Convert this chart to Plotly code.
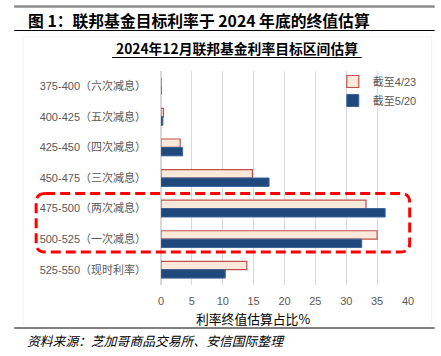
import plotly.graph_objects as go

categories = ["375-400（六次减息）", "400-425（五次减息）", "425-450（四次减息）",
              "450-475（三次减息）", "475-500（两次减息）", "500-525（一次减息）",
              "525-550（现时利率）"]
series_names = ["截至4/23", "截至5/20"]
values_0423 = [0.0, 0.4, 3.1, 14.8, 33.2, 35.0, 13.9]
values_0520 = [0.0, 0.3, 3.5, 17.5, 36.3, 32.5, 10.4]
x_ticks = [0, 5, 10, 15, 20, 25, 30, 35, 40]

W, H = 441, 356
L, R, T, B = 161, 408.3, 71, 285

def xp(px):
    return (px - L) / (R - L)

def yp(py):
    return (B - py) / (B - T)

FONT = "Liberation Sans, Arial, Noto Sans CJK SC, sans-serif"
CJK = "Noto Sans CJK SC, Liberation Sans, sans-serif"

fig = go.Figure()
fig.add_trace(go.Bar(
    y=categories, x=values_0423, name=series_names[0], orientation="h",
    marker=dict(color="#FDE9D9", line=dict(color="#C0504D", width=1.2)),
))
fig.add_trace(go.Bar(
    y=categories, x=values_0520, name=series_names[1], orientation="h",
    marker=dict(color="#1F497D", line=dict(color="#3A6297", width=1)),
))

shapes = []
shapes.append(dict(type="line", xref="paper", yref="paper", x0=xp(14), x1=xp(435),
                   y0=yp(6.5), y1=yp(6.5), line=dict(color="#8C8C8C", width=2.5)))
shapes.append(dict(type="line", xref="paper", yref="paper", x0=xp(14), x1=xp(435),
                   y0=yp(30.5), y1=yp(30.5), line=dict(color="#000000", width=1)))
shapes.append(dict(type="line", xref="paper", yref="paper", x0=xp(112), x1=xp(362),
                   y0=yp(57.5), y1=yp(57.5), line=dict(color="#000000", width=1)))
shapes.append(dict(type="line", xref="paper", yref="paper", x0=xp(14), x1=xp(435),
                   y0=yp(328), y1=yp(328), line=dict(color="#000000", width=1)))
shapes.append(dict(type="rect", xref="paper", yref="paper", x0=xp(23), x1=xp(432),
                   y0=yp(325), y1=yp(37), line=dict(color="#F2F2F2", width=1), layer="below"))

x0, x1, y0, y1, r = 36, 410, 193.5, 252, 9
def P(px, py):
    return f"{xp(px):.5f},{yp(py):.5f}"
path = (f"M {P(x0 + r, y0)} L {P(x1 - r, y0)} Q {P(x1, y0)} {P(x1, y0 + r)} "
        f"L {P(x1, y1 - r)} Q {P(x1, y1)} {P(x1 - r, y1)} "
        f"L {P(x0 + r, y1)} Q {P(x0, y1)} {P(x0, y1 - r)} "
        f"L {P(x0, y0 + r)} Q {P(x0, y0)} {P(x0 + r, y0)} Z")
shapes.append(dict(type="path", xref="paper", yref="paper", path=path,
                   line=dict(color="#FF0000", width=3, dash="10px,5px")))

annotations = [
    dict(text="<b>图 1：联邦基金目标利率于 2024 年底的终值估算</b>", xref="paper", yref="paper",
         x=xp(26), y=yp(20), xanchor="left", yanchor="middle", showarrow=False,
         font=dict(family=CJK, size=15.8, color="#000000")),
    dict(text="<b>2024年12月联邦基金利率目标区间估算</b>", xref="paper", yref="paper",
         x=xp(237), y=yp(48.5), xanchor="center", yanchor="middle", showarrow=False,
         font=dict(family=CJK, size=13.8, color="#000000")),
    dict(text="利率终值估算占比%", xref="paper", yref="paper",
         x=xp(253), y=yp(318), xanchor="center", yanchor="middle", showarrow=False,
         font=dict(family=CJK, size=12.8, color="#000000")),
    dict(text="<i>资料来源：芝加哥商品交易所、安信国际整理</i>", xref="paper", yref="paper",
         x=xp(25), y=yp(340), xanchor="left", yanchor="middle", showarrow=False,
         font=dict(family=CJK, size=12.8, color="#000000")),
]

fig.update_layout(
    width=W, height=H,
    margin=dict(l=L, r=W - R, t=T, b=H - B),
    paper_bgcolor="white", plot_bgcolor="white",
    barmode="group", bargap=0.45, bargroupgap=0.0,
    font=dict(family=FONT, size=11, color="#595959"),
    showlegend=True,
    legend=dict(x=xp(333), y=yp(67), xanchor="left", yanchor="top",
                bgcolor="rgba(0,0,0,0)", font=dict(family=FONT, size=11, color="#595959"),
                itemwidth=30, tracegroupgap=0),
    shapes=shapes, annotations=annotations,
    xaxis=dict(range=[0, 40], tickvals=x_ticks, showgrid=True, gridcolor="#D9D9D9",
               gridwidth=1, zeroline=True, zerolinecolor="#D9D9D9", showline=False,
               ticks="", tickfont=dict(size=11, color="#595959"), ticklabelstandoff=8),
    yaxis=dict(autorange="reversed", showgrid=False, showline=False, ticks="",
               tickfont=dict(size=11, color="#595959"), ticklabelstandoff=14),
)

fig.write_html("out.html", config={"displayModeBar": False},
               post_script="document.body.style.margin='0';")
